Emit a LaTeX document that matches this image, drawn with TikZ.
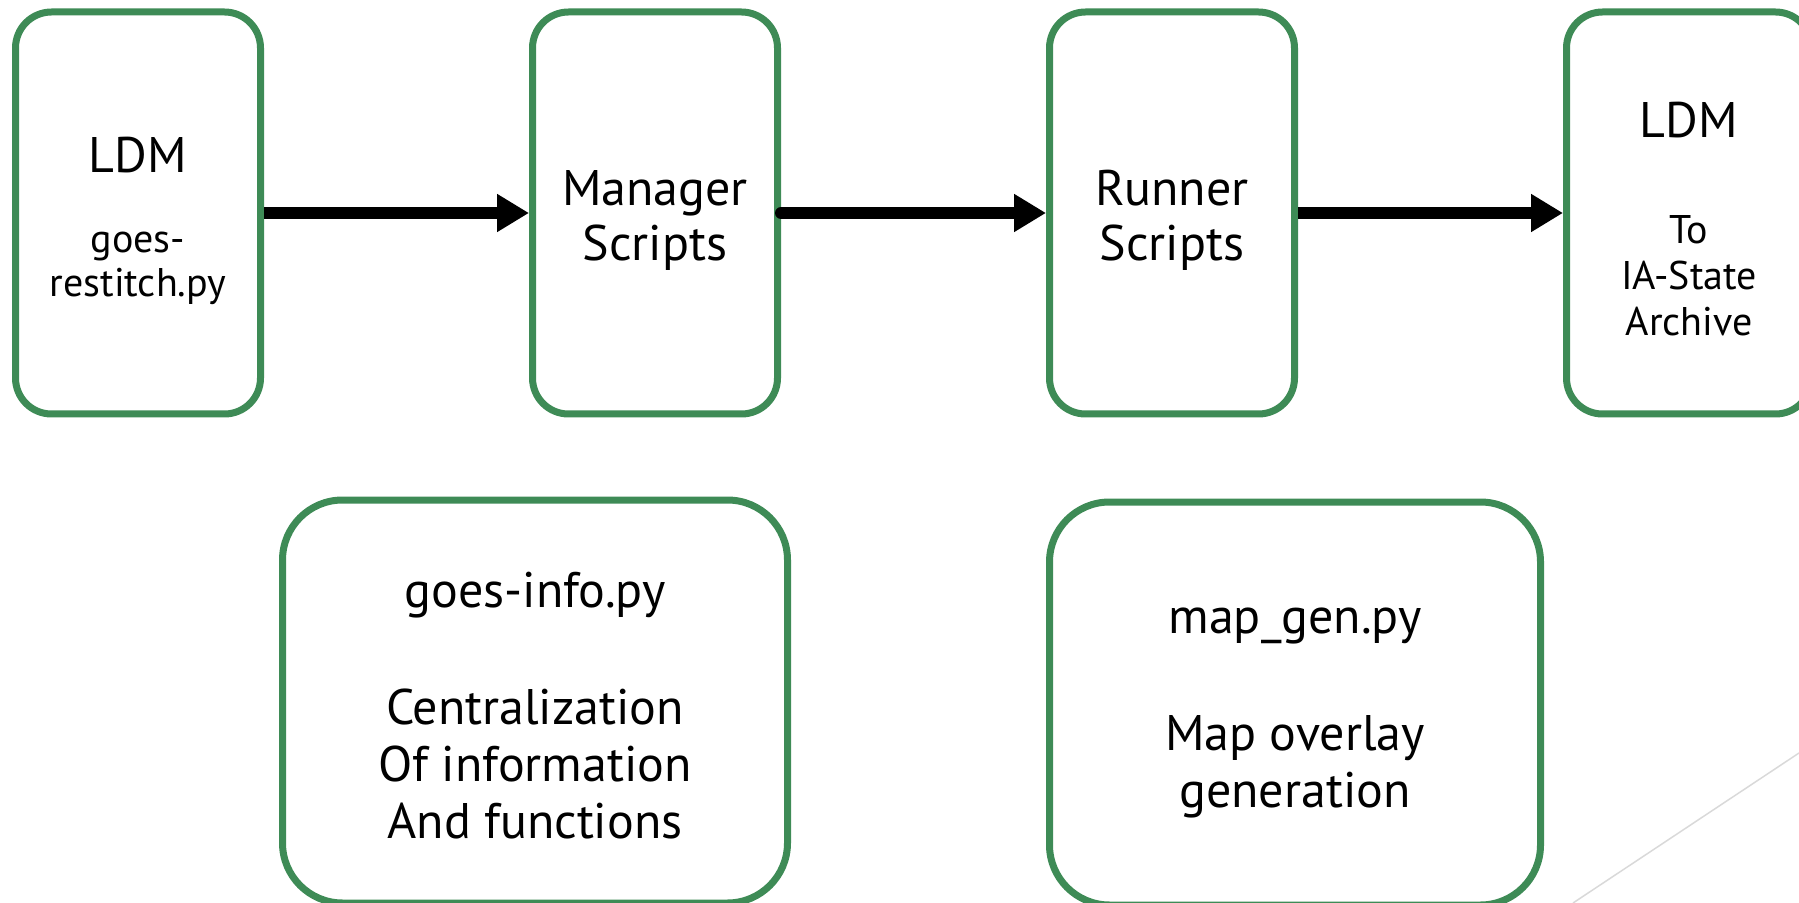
\documentclass[tikz,border=0pt]{standalone}
\usepackage{fontspec}
\setmainfont{PT Sans}
\usepackage{tikz}
\usetikzlibrary{arrows.meta,positioning}
\definecolor{boxgreen}{RGB}{62,139,86}
\newcommand{\topgap}[1]{\rule{0pt}{#1}}

\begin{document}
\begin{tikzpicture}[
      x=0.5pt, y=-0.5pt,
      node distance=132.5pt,
      stage/.style={rectangle, draw=boxgreen, line width=3.5pt, rounded corners=18pt, minimum width=122.5pt, minimum height=201pt, inner sep=0pt, align=center, font=\fontsize{25}{27.5}\selectfont},
      small/.style={font=\fontsize{20}{22}\selectfont},
      note/.style={stage, rounded corners=30pt, minimum height=201.5pt, font=\fontsize{25}{28.5}\selectfont},
      arrow/.style={-{Triangle[length=16pt,width=18pt]}, line width=6pt}
    ]
    \useasboundingbox (0,0) rectangle (1799,903);
    \node[stage, small] (ldm) at (138,213) {\topgap{25.5pt}{\fontsize{25}{27.5}\selectfont LDM}\\[18pt]goes-\\restitch.py};
    \node[stage, right=of ldm] (manager) {\topgap{25.5pt}Manager\\Scripts};
    \node[stage, right=of manager] (runner) {\topgap{25.5pt}Runner\\Scripts};
    \node[stage, small, font=\fontsize{20}{23}\selectfont, right=of runner] (archive) {\topgap{23.5pt}{\fontsize{25}{27.5}\selectfont LDM}\\[30pt]To\\IA-State\\Archive};
    \node[note, minimum width=252.5pt, below=39.5pt of manager.south west, xshift=3pt] (info) {\topgap{21.5pt}goes-info.py\\[30pt]Centralization\\Of information\\And functions};
    \node[note, minimum width=245.5pt, below=40.5pt of runner.south west, anchor=north west] (mapgen) {\topgap{22.5pt}map\_gen.py\\[30pt]Map overlay\\generation};

    \draw[arrow] (ldm) -- (manager);
    \draw[arrow, line cap=round] (manager) -- (runner);
    \draw[arrow] (runner) -- (archive);

    % slide decoration
    \draw[black!15, line width=0.75pt] (1573,903) -- (1799,753);
  \end{tikzpicture}
\end{document}
